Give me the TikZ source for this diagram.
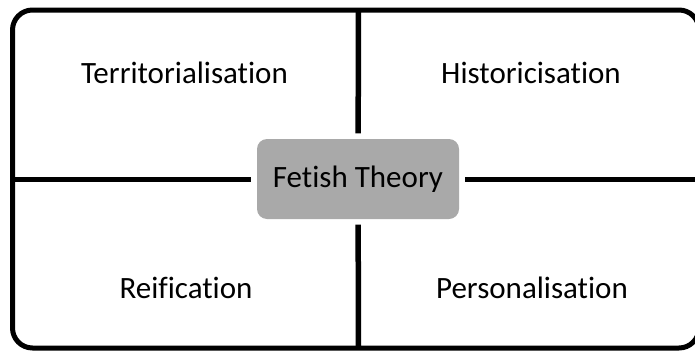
\documentclass[tikz,border=0pt]{standalone}
\usepackage{fontspec}
\setmainfont{Carlito}[Ligatures={NoCommon}]
\usepackage{xcolor}
\usepackage{tikz}
\definecolor{theorygray}{HTML}{A9A9A9}
\tikzset{
	label/.style = {anchor=base, inner sep=0pt, font=\fontsize{31}{37}\selectfont},
	theory/.style = {label, anchor=center, fill=theorygray, rounded corners=10pt, minimum width=202pt, minimum height=80pt},
	frame/.style = {line width=5pt, rounded corners=20pt},
	divider/.style = {line width=5.5pt, shorten >=5.5pt},
}

\begin{document}
\begin{tikzpicture}[x=1pt, y=-1pt]
	\useasboundingbox (0,0) rectangle (695,351);
	\draw[frame] (12.5,10) rectangle (699,348);
	
	\coordinate (top) at (358.5,10);
	\coordinate (bottom) at (358.5,348);
	\coordinate (left) at (12.5,179);
	\coordinate (right) at (699,179);
	
	\node[theory](fetish) at (358,179) {Fetish Theory};
	\draw[divider] (top) -- (fetish);
	\draw[divider] (bottom) -- (fetish);
	\draw[divider, line width=5pt] (left) -- (fetish);
	\draw[divider, line width=5pt] (right) -- (fetish);
	
	\node[label](terr) at (184.5,83) {Territorialisation};
	\node[label](hist) at (531,83) {Historicisation};
	\node[label](reif) at (186,298) {Reification};
	\node[label](pers) at (532,298) {Personalisation};
\end{tikzpicture}
\end{document}
